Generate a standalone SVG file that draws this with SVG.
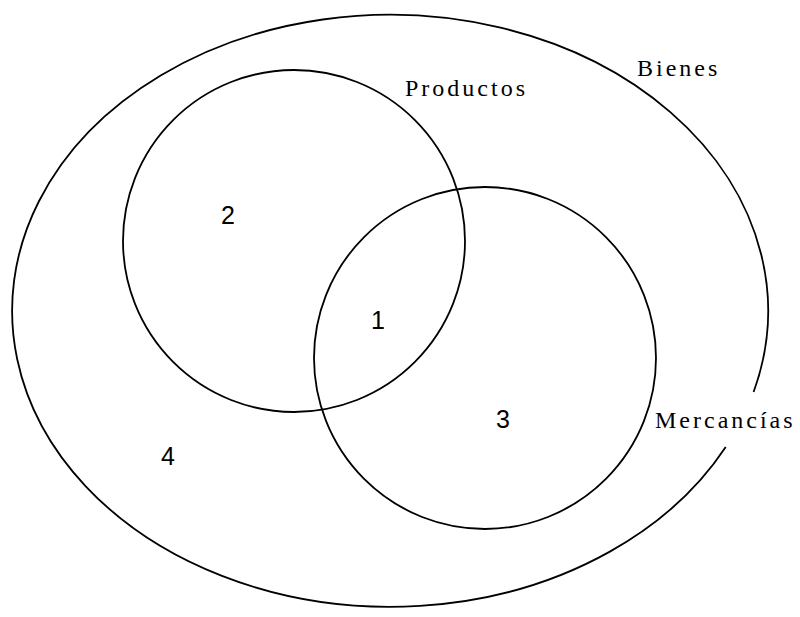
<svg xmlns="http://www.w3.org/2000/svg" width="800" height="617" viewBox="0 0 800 617">
<style>
.ln{fill:none;stroke:#000;stroke-width:1.8}
.lbl{font-family:"Liberation Serif","Times New Roman",serif;font-size:24px;letter-spacing:3px;fill:#000}
.num{font-family:"Liberation Sans",Arial,sans-serif;font-size:25px;fill:#000}
</style>
<rect width="800" height="617" fill="#fff"/>
<g id="bienes">
<path class="ln" d="M 753.6 392 A 378 296 0 1 0 725.7 447"/>
<text class="lbl" x="637" y="76">Bienes</text>
</g>
<g id="productos">
<circle class="ln" cx="294" cy="241" r="171"/>
<text class="lbl" x="405" y="96">Productos</text>
</g>
<g id="mercancias">
<circle class="ln" cx="485" cy="358" r="171"/>
<text class="lbl" x="655" y="428">Mercancías</text>
</g>
<g id="regions">
<text class="num" x="221" y="224">2</text>
<text class="num" x="371" y="329">1</text>
<text class="num" x="496" y="428">3</text>
<text class="num" x="161" y="465">4</text>
</g>
<g id="connectors"></g>
</svg>
